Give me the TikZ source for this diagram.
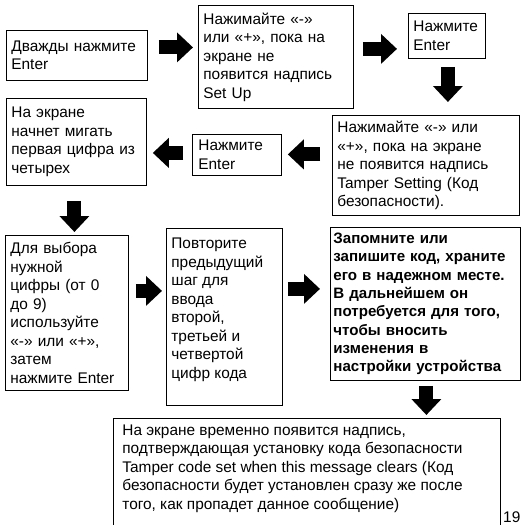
\documentclass[tikz,border=0pt]{standalone}
\usepackage{fontspec}
\setmainfont{Liberation Sans}
\usetikzlibrary{arrows.meta}

\newcommand{\topbox}[3]{\parbox[c][#1][t]{#2}{\raggedright #3}}

\begin{document}
\begin{tikzpicture}[x=1pt,y=-1pt,font=\fontsize{15.4}{18.5}\selectfont,
  box/.style={draw, line width=0.8pt, anchor=north west, align=left, inner xsep=5pt, inner ysep=0pt},
  fat/.style={line width=14pt, -{Triangle[length=16pt,width=29pt]}}]
  \useasboundingbox (0,0) rectangle (520,525);
  \node (b1) [box, text width=131pt, minimum height=50pt]  at (6,30)   {Дважды нажмите\\Enter};
  \node (b2) [box, text width=145pt, minimum height=103pt] at (198,5)  {Нажимайте «-»\\или «+», пока на\\экране не\\появится надпись\\Set Up};
  \node (b3) [box, inner xsep=5pt, text width=67pt, minimum height=45pt] at (408,13) {Нажмите\\Enter};
  \node (b4) [box, text width=177pt, minimum height=100pt] at (332,115) {Нажимайте «-» или\\«+», пока на экране\\не появится надпись\\Tamper Setting (Код\\безопасности).};
  \node (b5) [box, inner xsep=6pt, text width=77pt, minimum height=41pt] at (192,134) {Нажмите\\Enter};
  \node (b6) [box, text width=130pt, minimum height=87pt]  at (6,98)   {На экране\\начнет мигать\\первая цифра из\\четырех};
  \node (b7) [box, text width=113pt, minimum height=155pt] at (5,235)  {Для выбора\\нужной\\цифры (от 0\\до 9)\\используйте\\«-» или «+»,\\затем\\нажмите Enter};
  \node (b8) [box, inner ysep=10pt] at (166,228) {\topbox{157pt}{106pt}{Повторите\\предыдущий\\шаг для\\ввода\\второй,\\третьей и\\четвертой\\цифр кода}};
  \node (b9) [box, inner xsep=3pt, text width=184pt, minimum height=153pt, font=\fontsize{15.1}{18.3}\selectfont\bfseries] at (330,227) {Запомните или\\запишите код, храните\\его в надежном месте.\\В дальнейшем он\\потребуется для того,\\чтобы вносить\\изменения в\\настройки устройства};
  \node (b10) [box, inner xsep=9pt, inner ysep=6pt] at (113,418) {\topbox{110pt}{369pt}{На экране временно появится надпись,\\подтверждающая установку кода безопасности\\Tamper code set when this message clears (Код\\безопасности будет установлен сразу же после\\того, как пропадет данное сообщение)}};
  \node (pg) [anchor=north west, inner sep=0pt] at (503,512) {19};
  % block arrows between the steps
  \draw[fat] ([xshift=11pt,yshift=8pt]b1.east) -- ([xshift=-5pt,yshift=8pt]b1.east -| b2.west);
  \draw[fat] ([xshift=9pt,yshift=8pt]b2.east) -- ([xshift=-11pt,yshift=8pt]b2.east -| b3.west);
  \draw[fat] ([xshift=1pt,yshift=-8pt]b3.south) -- ([xshift=1pt,yshift=13pt]b3.south |- b4.north);
  \draw[fat] ([xshift=-12pt,yshift=11pt]b4.west) -- ([xshift=6pt,yshift=11pt]b4.west -| b5.east);
  \draw[fat] ([xshift=-9pt,yshift=2pt]b5.west) -- ([xshift=6pt,yshift=2pt]b5.west -| b6.east);
  \draw[fat] ([xshift=-2pt,yshift=-15pt]b6.south) -- ([xshift=-2pt,yshift=3pt]b6.south |- b7.north);
  \draw[fat] ([xshift=7pt,yshift=22pt]b7.east) -- ([xshift=-4pt,yshift=22pt]b7.east -| b8.west);
  \draw[fat] ([xshift=5pt,yshift=28pt]b8.east) -- ([xshift=-10pt,yshift=28pt]b8.east -| b9.west);
  \draw[fat] ([xshift=1pt,yshift=-5pt]b9.south) -- ([xshift=1pt,yshift=3pt]b9.south |- b10.north);
\end{tikzpicture}
\end{document}
